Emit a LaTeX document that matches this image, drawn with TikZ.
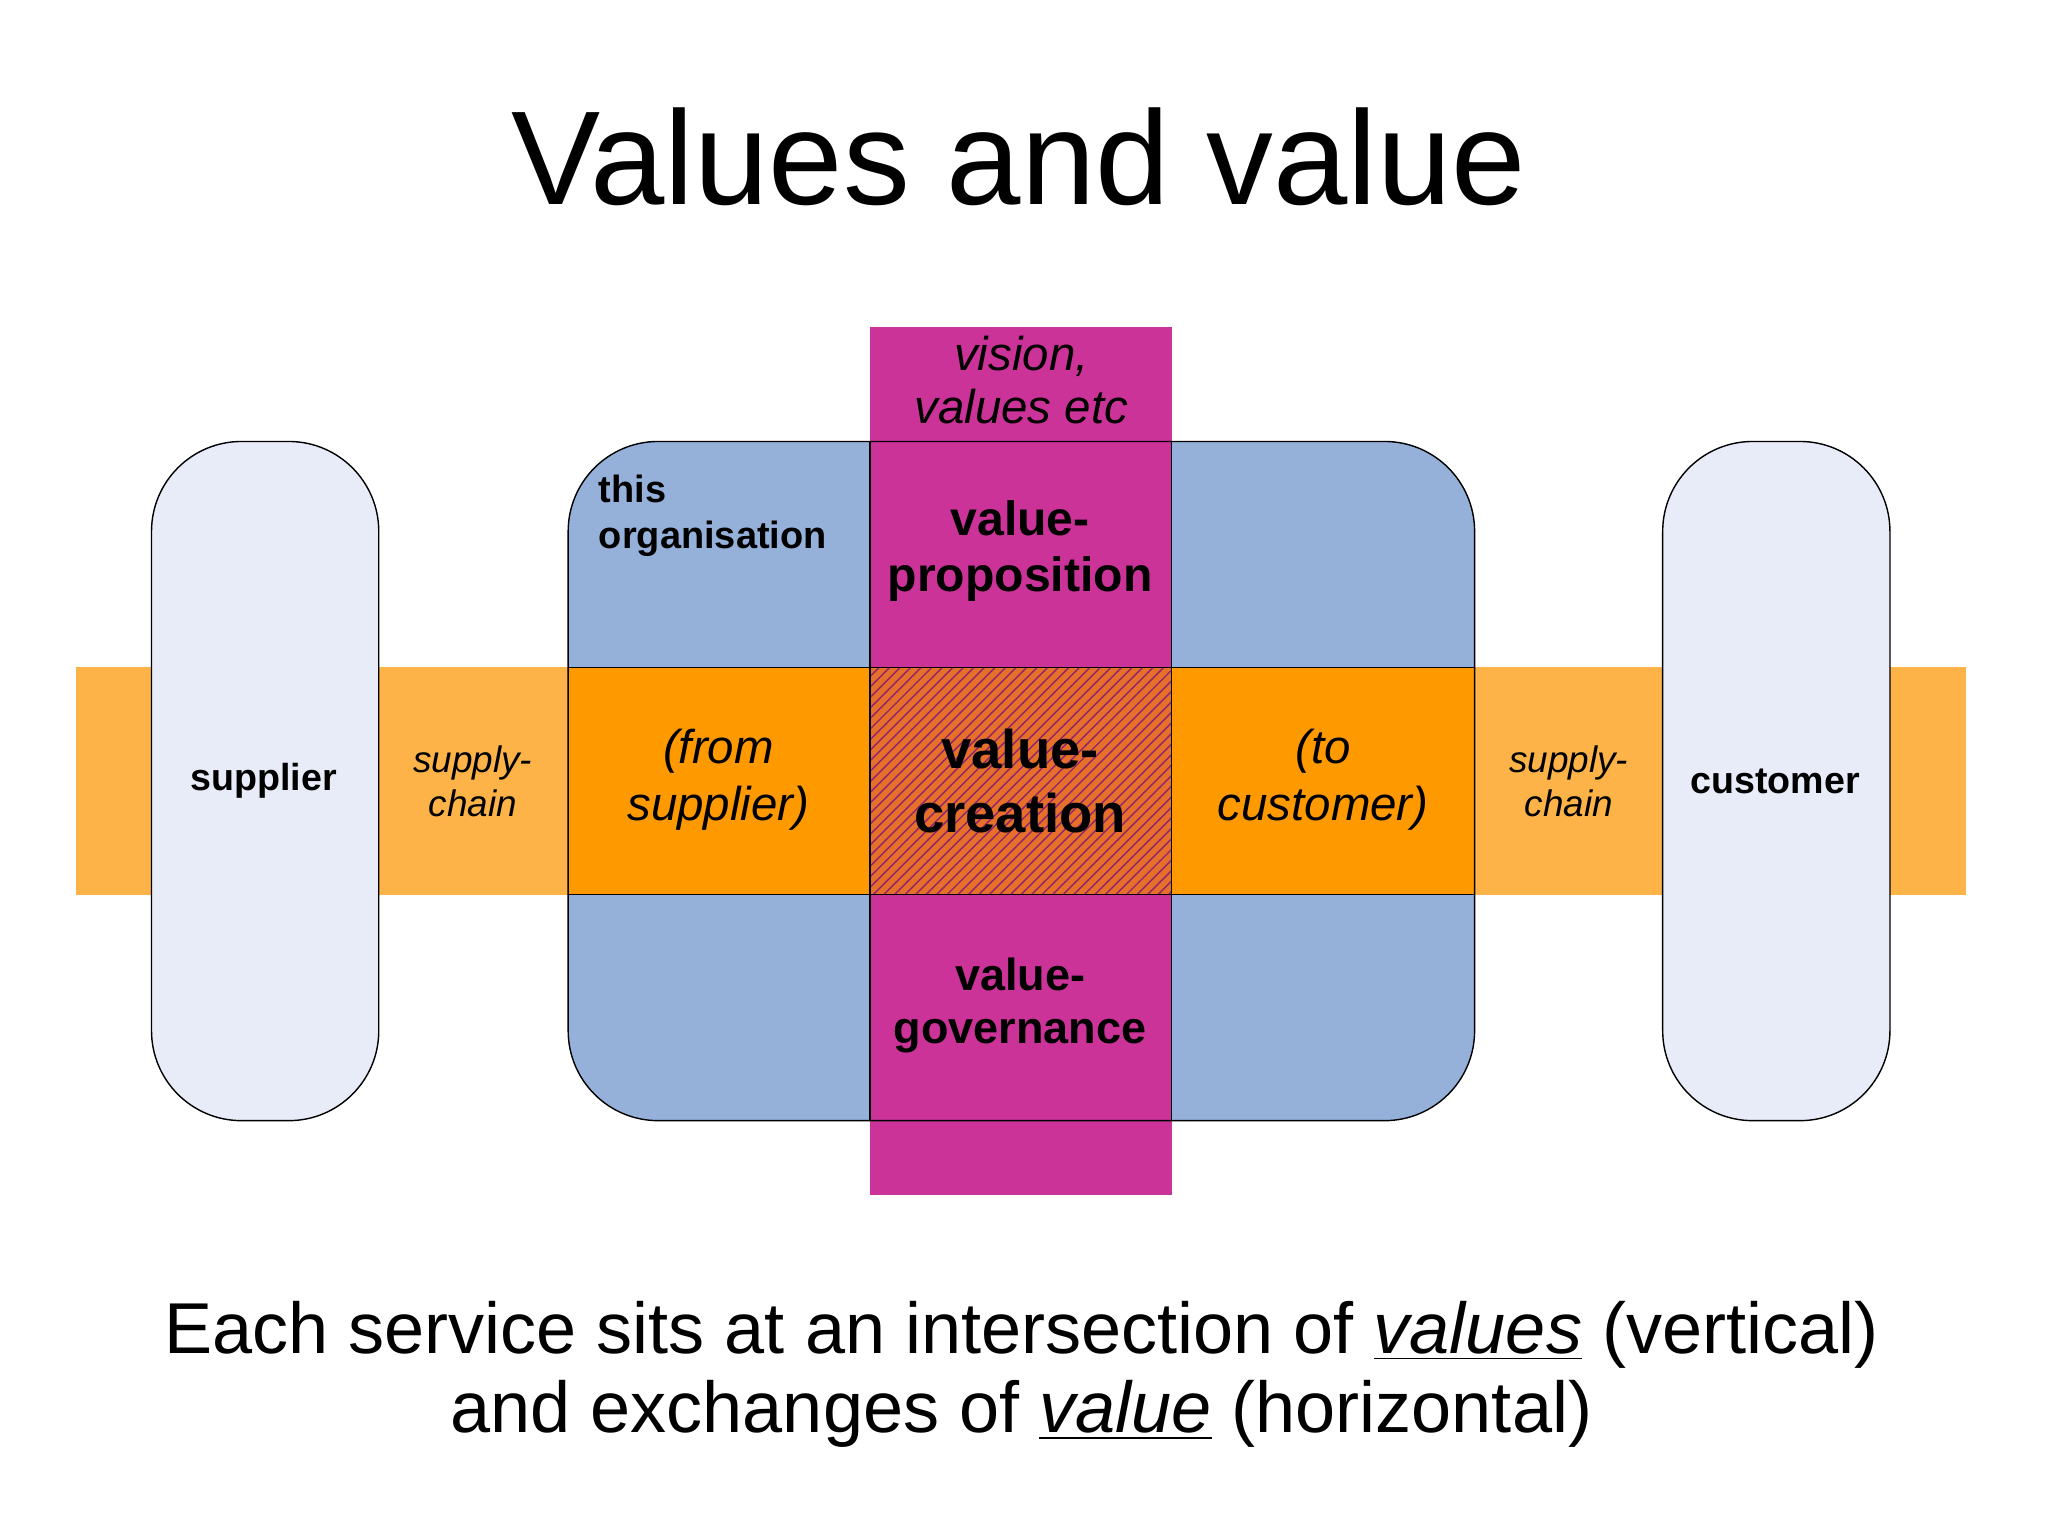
\documentclass[tikz,border=0pt]{standalone}
\usepackage{fontspec}
\setmainfont{Liberation Sans}
\usetikzlibrary{patterns}
\definecolor{bandL}{HTML}{FDB347}
\definecolor{bandD}{HTML}{FF9900}
\definecolor{orgB}{HTML}{95B1DA}
\definecolor{pill}{HTML}{E8ECF8}
\definecolor{mag}{HTML}{CC3399}
\definecolor{hatch}{HTML}{E6702A}
\tikzset{
 lbl/.style={align=center,inner sep=0pt,font=\fontsize{10.7}{13}\selectfont\bfseries},
 ital/.style={align=center,inner sep=0pt,font=\fontsize{10.5}{12.5}\selectfont\itshape},
 bigital/.style={align=center,inner sep=0pt,font=\fontsize{13.5}{16}\selectfont\itshape},
 big/.style={align=center,inner sep=0pt,font=\fontsize{13.7}{16}\selectfont\bfseries},
 rc/.style={rounded corners=0.9cm},
}
\begin{document}
\begin{tikzpicture}[x=0.013061cm,y=-0.013061cm]
\useasboundingbox (0,0) rectangle (1568,1176);
\fill[white] (0,0) rectangle (1568,1176);
\node[inner sep=0pt,font=\fontsize{38}{42}\selectfont] (title) at (780,120) {Values and value};
% outer band
\fill[bandL] (58,511) rectangle (1505,685);
% pills
\draw[fill=pill,rc] (116,338) rectangle (290,858);
\draw[fill=pill,rc] (1273,338) rectangle (1447,858);
% org box
\fill[orgB,rc] (435,338) rectangle (1129,858);
\fill[bandD] (435,511) rectangle (1129,685);
\fill[mag] (666,250) rectangle (897,915);
\fill[hatch] (666,511) rectangle (897,685);
\fill[pattern=north east lines,pattern color=mag!70!black] (666,511) rectangle (897,685);
\draw[rc] (435,338) rectangle (1129,858);
\draw (666,338) -- (666,858) (897,338) -- (897,858);
\draw (435,511) -- (1129,511) (435,685) -- (1129,685);
% texts
\node[ital,font=\fontsize{13.5}{15}\selectfont\itshape] (vis) at (782,291) {vision,\\values etc};
\node[lbl,font=\fontsize{10.8}{13}\selectfont\bfseries,align=left,anchor=west] (org) at (458,395) {this\\organisation};
\node[big] (vp) at (781,422) {value-\\proposition};
\node[lbl] (sup) at (202,598) {supplier};
\node[ital] (sc1) at (362,598) {supply-\\chain};
\node[bigital] (fr) at (550,597) {(from\\supplier)};
\node[big,font=\fontsize{15.5}{18}\selectfont\bfseries] (vc) at (781,598) {value-\\creation};
\node[bigital] (to) at (1013,597) {(to\\customer)};
\node[ital] (sc2) at (1201,598) {supply-\\chain};
\node[lbl] (cus) at (1359,598) {customer};
\node[big,font=\fontsize{12.8}{15}\selectfont\bfseries] (vg) at (781,770) {value-\\governance};
\node[align=center,inner sep=0pt,font=\fontsize{20.5}{22.5}\selectfont] (cap) at (782,1052)
 {Each service sits at an intersection of \underline{\itshape values} (vertical)\\and exchanges of \underline{\itshape value} (horizontal)};
\end{tikzpicture}
\end{document}
